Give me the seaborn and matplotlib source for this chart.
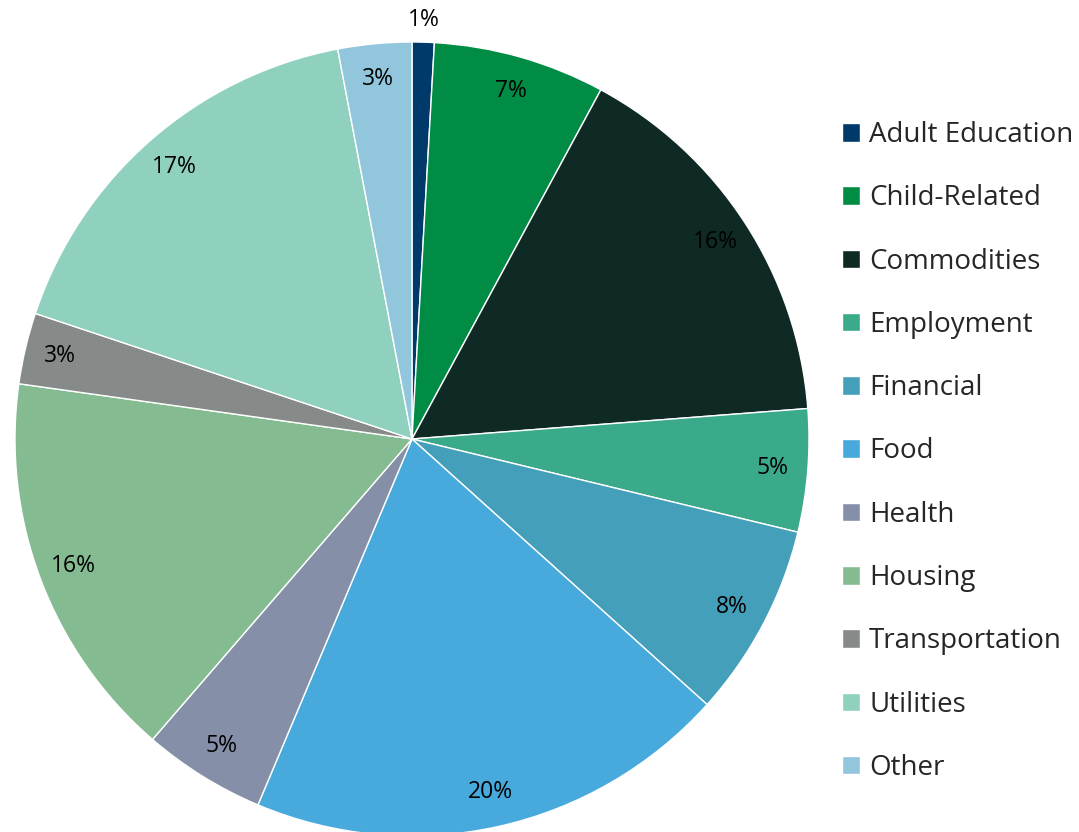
import numpy as np
import matplotlib
matplotlib.use("Agg")
import matplotlib.pyplot as plt
import seaborn as sns

# category shares (percent), read clockwise from the top
categories = ["Adult Education", "Child-Related", "Commodities", "Employment",
              "Financial", "Food", "Health", "Housing", "Transportation",
              "Utilities", "Other"]
shares = [0.9, 7.0, 15.9, 5.0, 7.9, 19.7, 5.0, 15.9, 2.9, 16.9, 3.0]
colors = ["#003A6B", "#008C45", "#0F2A25", "#3AAA8B", "#449FBA", "#47A9DC",
          "#8590A8", "#85BB91", "#868A88", "#90D0BE", "#92C6DC"]

sns.set_style("white")
plt.rcParams['font.family'] = ['Open Sans', 'DejaVu Sans']

fig = plt.figure(figsize=(10.79, 8.32), dpi=100)
ax = fig.add_axes([15 / 1079, -4 / 832, 794 / 1079, 794 / 832])

wedges, texts, autotexts = ax.pie(
    shares, colors=colors, startangle=90, counterclock=False,
    autopct="%.0f%%", pctdistance=0.91,
    wedgeprops=dict(edgecolor="white", linewidth=1),
    textprops=dict(fontsize=16.5, color="black"))

# the tiny first slice gets its label outside the pie
w = wedges[0]
mid = np.deg2rad((w.theta1 + w.theta2) / 2)
autotexts[0].set_position((1.055 * np.cos(mid), 1.055 * np.sin(mid)))

ax.set_xlim(-1, 1)
ax.set_ylim(-1, 1)
ax.axis("off")

fig.legend(wedges, categories, loc="upper left",
           bbox_to_anchor=(831 / 1079, 1 - 110 / 832),
           frameon=False, fontsize=20, handlelength=0.65, handleheight=0.65,
           handletextpad=0.32, labelspacing=1.27, borderaxespad=0)

fig.savefig("out.png", dpi=100)
